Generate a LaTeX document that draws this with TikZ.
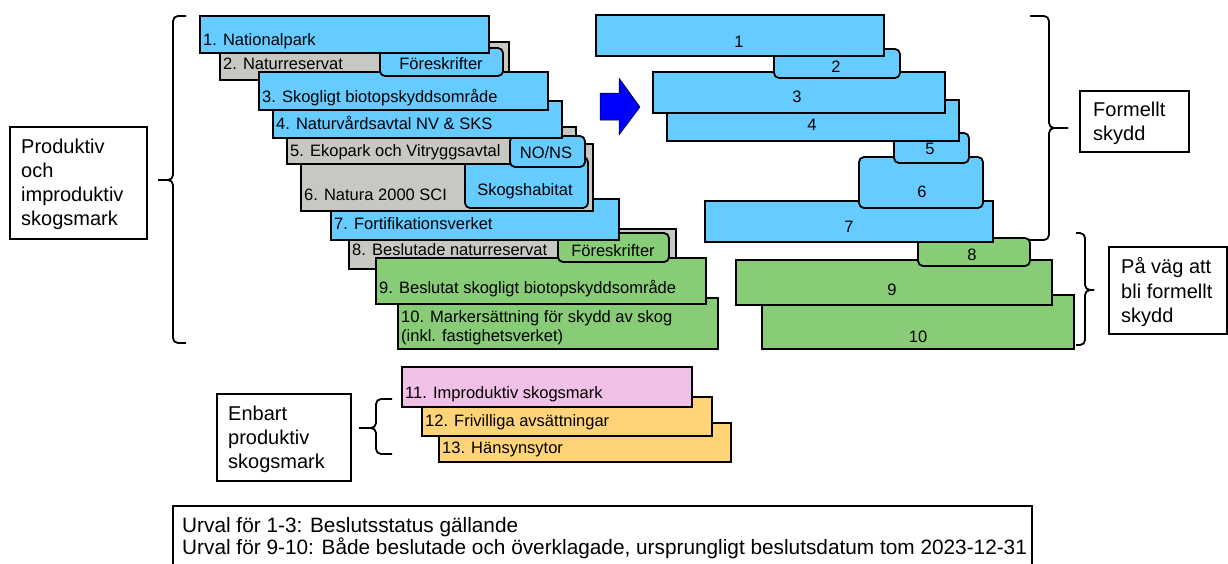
\documentclass[tikz,border=0pt]{standalone}
\usepackage{fontspec}
\setmainfont{Liberation Sans}
\usepackage{tikz}
\usetikzlibrary{positioning}
\usepackage{xcolor}
\definecolor{skyblue}{HTML}{66CCFF}
\definecolor{stonegray}{HTML}{C8C8C3}
\definecolor{leafgreen}{HTML}{88CC77}
\definecolor{heathpink}{HTML}{F0C0E6}
\definecolor{sandyellow}{HTML}{FFD478}

\tikzset{
  area/.style={draw=black, line width=1.8pt, anchor=north west, inner sep=0pt, outer sep=0pt},
  subarea/.style={area, rounded corners=5pt},
  txt/.style={anchor=base west, inner sep=0pt, font=\fontsize{16.5}{19}\selectfont},
  num/.style={anchor=base, inner sep=0pt, font=\fontsize{16.5}{19}\selectfont},
  lblbox/.style={draw=black, line width=1.5pt, anchor=north west, inner sep=0pt},
  lbl/.style={anchor=north west, inner sep=0pt, align=left, font=\fontsize{20}{24}\selectfont},
  brace/.style={line width=1.8pt, rounded corners=5pt},
}

\begin{document}
\begin{tikzpicture}[x=1pt, y=-1pt]
        \useasboundingbox (0,0) rectangle (1228,563);
        % left stack
        \node[area, fill=leafgreen, minimum width=320pt, minimum height=51pt] (p10) at (398,298) {};
        \node[txt, anchor=north west, align=left] (p10t) at (401,310) {10. Markersättning för skydd av skog\\(inkl. fastighetsverket)};
        \node[area, fill=stonegray, minimum width=327pt, minimum height=40pt] (p8) at (349,229) {};
        \node[txt] (p8t) at (352,255) {8. Beslutade naturreservat};
        \node[area, fill=leafgreen, minimum width=330pt, minimum height=46pt] (p9) at (376,258) {};
        \node[txt] (p9t) at (379,293) {9. Beslutat skogligt biotopskyddsområde};
        \node[subarea, fill=leafgreen, minimum width=111pt, minimum height=29pt] (f8) at (558,233) {};
        \node[num] (f8t) at (613,256) {Föreskrifter};
        \node[area, fill=skyblue, minimum width=288pt, minimum height=41pt] (p7) at (331,199) {};
        \node[txt] (p7t) at (334,229) {7. Fortifikationsverket};
        \node[area, fill=stonegray, minimum width=292pt, minimum height=67pt] (p6) at (301,144) {};
        \node[txt] (p6t) at (304,200) {6. Natura 2000 SCI};
        \node[subarea, fill=skyblue, minimum width=123pt, minimum height=51pt] (hab) at (465,157) {};
        \node[num] (habt) at (525,195) {Skogshabitat};
        \node[area, fill=stonegray, minimum width=289pt, minimum height=37pt] (p5) at (287,127) {};
        \node[txt] (p5t) at (290,156) {5. Ekopark och Vitryggsavtal};
        \node[subarea, fill=skyblue, minimum width=75pt, minimum height=31pt] (nons) at (510,136) {};
        \node[num] (nonst) at (546,158) {NO/NS};
        \node[area, fill=skyblue, minimum width=289pt, minimum height=37pt] (p4) at (273,101) {};
        \node[txt] (p4t) at (276,129) {4. Naturvårdsavtal NV \& SKS};
        \node[area, fill=stonegray, minimum width=289pt, minimum height=38pt] (p2) at (220,42) {};
        \node[txt] (p2t) at (223,69.5) {2. Naturreservat};
        \node[area, fill=skyblue, minimum width=289pt, minimum height=38pt] (p3) at (259,72) {};
        \node[txt] (p3t) at (262,102) {3. Skogligt biotopskyddsområde};
        \node[subarea, fill=skyblue, minimum width=123pt, minimum height=28pt] (f2) at (380,48) {};
        \node[num] (f2t) at (441,69) {Föreskrifter};
        \node[area, fill=skyblue, minimum width=289pt, minimum height=37pt] (p1) at (200,16) {};
        \node[txt] (p1t) at (203,45) {1. Nationalpark};
        % arrow
        \filldraw[fill=blue, draw=black, line width=0.5pt] (600,93) -- (619,93) -- (619,78) -- (640,107) -- (619,135) -- (619,120) -- (600,120) -- cycle;
        % right stack
        \node[area, fill=leafgreen, minimum width=312pt, minimum height=54pt] (r10) at (762,295) {};
        \node[num] (r10t) at (918,342) {10};
        \node[area, fill=leafgreen, minimum width=316pt, minimum height=45pt] (r9) at (736,260) {};
        \node[num] (r9t) at (892,295) {9};
        \node[subarea, fill=leafgreen, minimum width=112pt, minimum height=28pt] (r8) at (918,238) {};
        \node[num] (r8t) at (972,260) {8};
        \node[area, fill=skyblue, minimum width=288pt, minimum height=41pt] (r7) at (705,201) {};
        \node[num] (r7t) at (849,232) {7};
        \node[subarea, fill=skyblue, minimum width=124pt, minimum height=51pt] (r6) at (859,157) {};
        \node[num] (r6t) at (922,197) {6};
        \node[subarea, fill=skyblue, minimum width=75pt, minimum height=30pt] (r5) at (894,133) {};
        \node[num] (r5t) at (930,154) {5};
        \node[area, fill=skyblue, minimum width=292pt, minimum height=41pt] (r4) at (667,100) {};
        \node[num] (r4t) at (812,130) {4};
        \node[area, fill=skyblue, minimum width=292pt, minimum height=41pt] (r3) at (653,72) {};
        \node[num] (r3t) at (797,102) {3};
        \node[subarea, fill=skyblue, minimum width=126pt, minimum height=29pt] (r2) at (774,49) {};
        \node[num] (r2t) at (836,72) {2};
        \node[area, fill=skyblue, minimum width=288pt, minimum height=41pt] (r1) at (596,15) {};
        \node[num] (r1t) at (739,47) {1};
        % bottom stack
        \node[area, fill=sandyellow, minimum width=292pt, minimum height=39pt] (q13) at (439,423) {};
        \node[txt] (q13t) at (442,453) {13. Hänsynsytor};
        \node[area, fill=sandyellow, minimum width=290pt, minimum height=39pt] (q12) at (422,397) {};
        \node[txt] (q12t) at (425,426) {12. Frivilliga avsättningar};
        \node[area, fill=heathpink, minimum width=290pt, minimum height=40pt] (q11) at (402,367) {};
        \node[txt] (q11t) at (405,398) {11. Improduktiv skogsmark};
        % labels
        \node[lblbox, minimum width=137pt, minimum height=112pt] (prod) at (9,126) {};
        \node[lbl] (prodt) at (21,138.5) {Produktiv\\och\\improduktiv\\skogsmark};
        \node[lblbox, minimum width=109pt, minimum height=61pt] (formellt) at (1079,90) {};
        \node[lbl] (formelltt) at (1093,101.5) {Formellt\\skydd};
        \node[lblbox, minimum width=118pt, minimum height=87pt] (pavag) at (1108,246) {};
        \node[lbl, font=\fontsize{20}{24.5}\selectfont] (pavagt) at (1121,257.5) {På väg att\\bli formellt\\skydd};
        \node[lblbox, minimum width=134pt, minimum height=87pt] (enbart) at (216,393) {};
        \node[lbl] (enbartt) at (228,405.5) {Enbart\\produktiv\\skogsmark};
        \node[lblbox, minimum width=859pt, minimum height=70pt] (urval) at (172,505) {};
        \node[lbl, font=\fontsize{20.8}{17}\selectfont] (urvalt) at (182,517.5) {Urval för 1-3: Beslutsstatus gällande\\Urval för 9-10: Både beslutade och överklagade, ursprungligt beslutsdatum tom 2023-12-31};
        % braces
        \draw[brace] (186,16) -- (173,16) -- (173,180) -- (158,180);
        \draw[brace] (158,180) -- (173,180) -- (173,343) -- (186,343);
        \draw[brace] (1030,16) -- (1049,16) -- (1049,128) -- (1068,128);
        \draw[brace] (1068,128) -- (1049,128) -- (1049,240) -- (1028,240);
        \draw[brace] (1076,233) -- (1085,233) -- (1085,290) -- (1094,290);
        \draw[brace] (1094,290) -- (1085,290) -- (1085,345) -- (1076,345);
        \draw[brace] (392,399) -- (376,399) -- (376,428) -- (359,428);
        \draw[brace] (359,428) -- (376,428) -- (376,454) -- (392,454);
\end{tikzpicture}
\end{document}
